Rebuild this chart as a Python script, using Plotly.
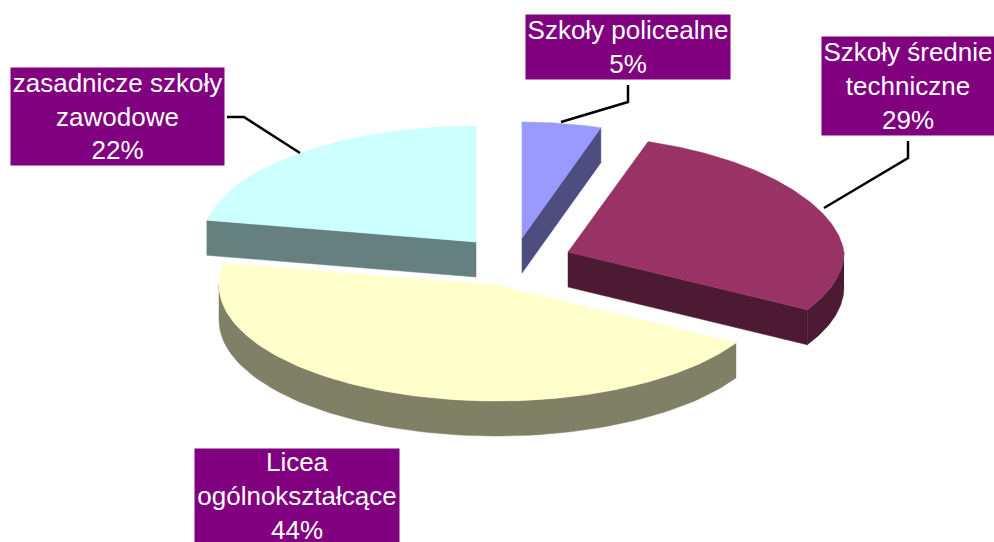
import numpy as np
import plotly.graph_objects as go

categories = ["Szkoły policealne", "Szkoły średnie techniczne", "Licea ogólnokształcące", "zasadnicze szkoły zawodowe"]
shares = [5.0, 28.3, 44.7, 22.0]
label_lines = ["Szkoły policealne<br>5%", "Szkoły średnie<br>techniczne<br>29%", "Licea<br>ogólnokształcące<br>44%", "zasadnicze szkoły<br>zawodowe<br>22%"]
top_colors = ["#9999FF", "#993366", "#FFFFCC", "#CCFFFF"]
side_colors = ["#4D4D80", "#4D1A33", "#808066", "#668080"]

# layout of the tilted, exploded pie (pixel-like axis units)
apex = [(522, 238), (568, 252), (496, 285), (476, 242)]
radius_x = [272, 276, 277, 274]
radius_y = [116, 116, 116, 116]
far_taper = [0.065, 0.065, 0, 0]
depth = 35
draw_order = [0, 3, 1, 2]
boxes = [(526, 15, 730, 79), (822, 37, 994, 135), (195, 449, 399, 543), (11, 68, 224, 165)]
leaders = [[(561, 122), (628, 102), (628, 85)], [(824, 208), (908, 158), (908, 141)], None, [(300, 153), (244, 117), (227, 117)]]

ends = np.cumsum(shares) / sum(shares) * 360
starts = np.concatenate([[0], ends[:-1]])

fig = go.Figure()

def poly(xs, ys, color):
    fig.add_trace(go.Scatter(x=list(xs), y=list(ys), mode="lines", fill="toself", fillcolor=color,
                             line=dict(color=color, width=0.5), hoverinfo="skip", showlegend=False))

for i in draw_order:
    cx, cy = apex[i]
    rx, ry, k = radius_x[i], radius_y[i], far_taper[i]
    a0, a1 = starts[i], ends[i]
    def pt(deg):
        r = np.radians(deg)
        return (cx + rx * np.sin(r) * (1 - k * np.maximum(np.cos(r), 0)), cy - ry * np.cos(r))
    # radial walls facing the viewer
    for a, visible in ((a0, np.sin(np.radians(a0)) < -1e-6), (a1, np.sin(np.radians(a1)) > 1e-6)):
        if visible:
            px, py = pt(a)
            poly([cx, px, px, cx, cx], [cy, py, py + depth, cy + depth, cy], side_colors[i])
    # outer rim facing the viewer
    lo, hi = max(a0, 90), min(a1, 270)
    if hi > lo:
        t = np.linspace(lo, hi, 80)
        px, py = pt(t)
        poly(np.r_[px, px[::-1]], np.r_[py, py[::-1] + depth], side_colors[i])
    # top face
    t = np.linspace(a0, a1, 160)
    px, py = pt(t)
    poly(np.r_[cx, px, cx], np.r_[cy, py, cy], top_colors[i])

annotations = []
for i in range(len(categories)):
    x0, y0, x1, y1 = boxes[i]
    annotations.append(dict(x=(x0 + x1) / 2, y=(y0 + y1) / 2, xref="x", yref="y", text=label_lines[i], showarrow=False,
                            width=x1 - x0, height=y1 - y0, bgcolor="#800080", align="center", valign="middle",
                            borderpad=0, font=dict(family="Liberation Sans, Arial", size=26, color="white")))
    if leaders[i]:
        xs, ys = zip(*leaders[i])
        fig.add_trace(go.Scatter(x=xs, y=ys, mode="lines", line=dict(color="black", width=2.5),
                                 hoverinfo="skip", showlegend=False))

fig.update_layout(width=994, height=542, margin=dict(l=0, r=0, t=0, b=0), paper_bgcolor="white", plot_bgcolor="white",
                  xaxis=dict(range=[0, 994], visible=False, fixedrange=True),
                  yaxis=dict(range=[542, 0], visible=False, fixedrange=True),
                  annotations=annotations, showlegend=False)
fig.write_html("out.html", post_script="document.body.style.margin='0';", config={"displayModeBar": False})
